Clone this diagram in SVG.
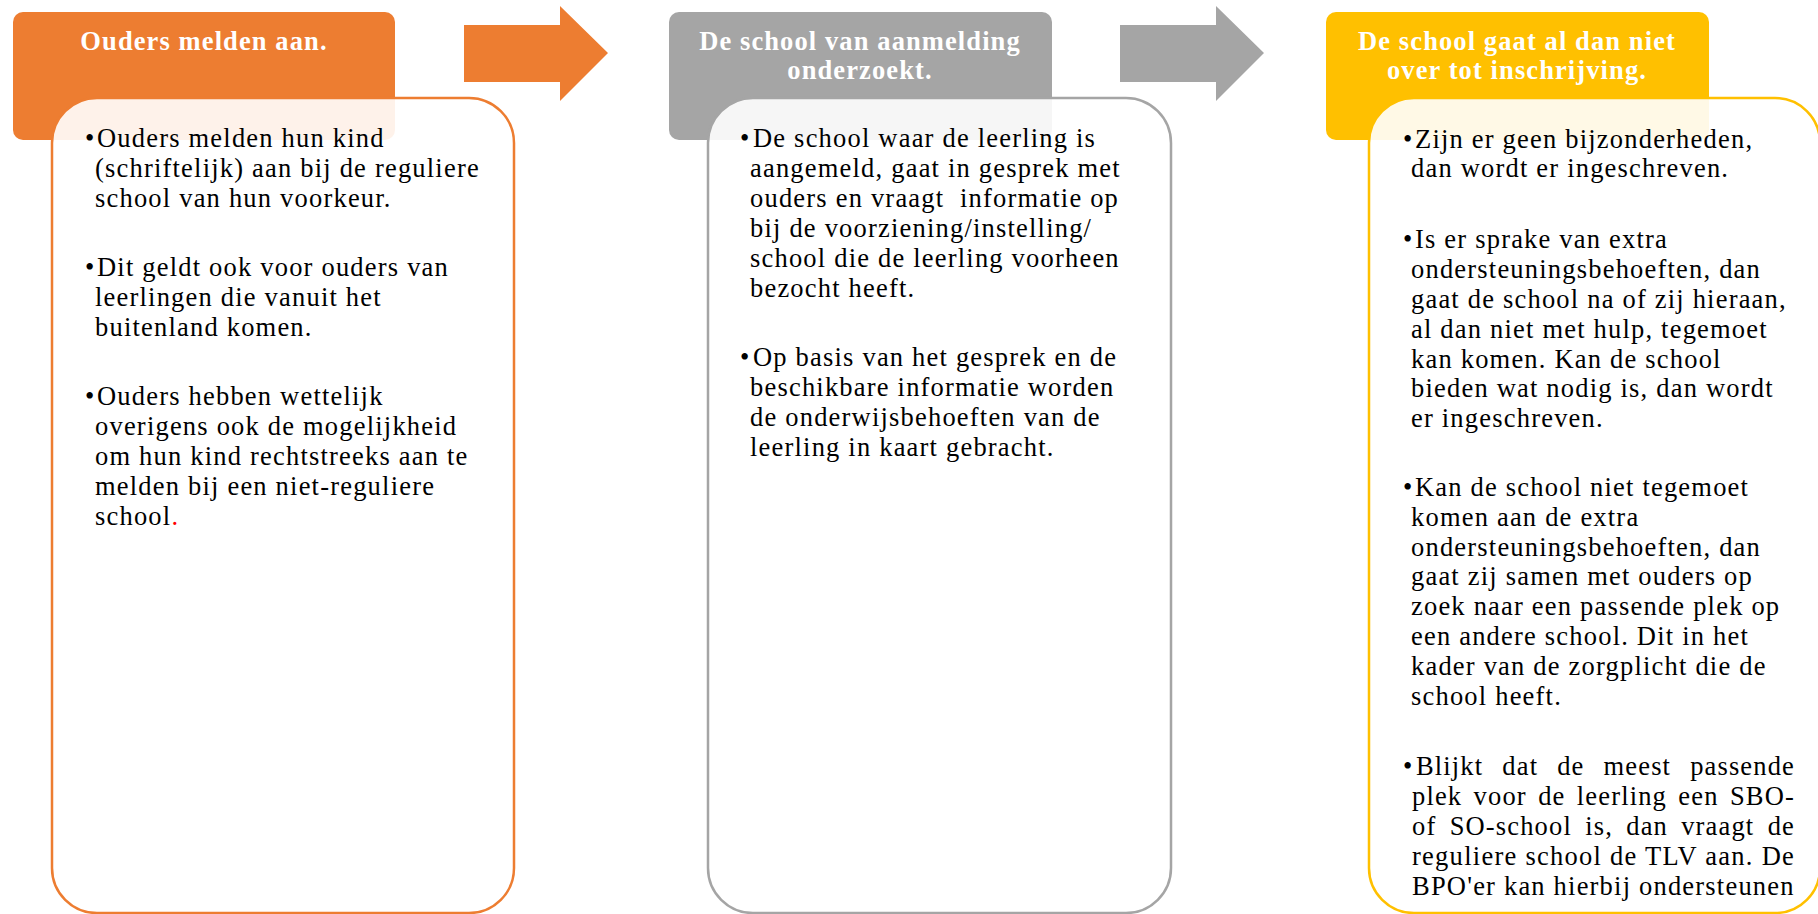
<svg xmlns="http://www.w3.org/2000/svg" width="1818" height="914" viewBox="0 0 1818 914">
<style>
.hdr{font-family:"Liberation Serif",serif;font-weight:bold;font-size:26.5px;fill:#fff;text-anchor:middle;letter-spacing:1.1px}
.txt{font-family:"Liberation Serif",serif;font-size:26.5px;fill:#000;letter-spacing:1.2px}
.body{fill:#fff;fill-opacity:0.9;stroke-width:2.5}
</style>
<rect width="1818" height="914" fill="#fff"/>
<g id="connectors">
<polygon id="arrow1" points="464,25 560,25 560,6 608,53 560,101 560,82 464,82" fill="#ED7D31"/>
<polygon id="arrow2" points="1120,25 1216,25 1216,6 1264,53 1216,101 1216,82 1120,82" fill="#A5A5A5"/>
</g>
<g id="step1">
<rect x="13" y="12" width="382" height="128" rx="10" fill="#ED7D31"/>
<text class="hdr" x="204" y="50">Ouders melden aan.</text>
<rect class="body" x="52" y="98" width="462" height="815" rx="45" stroke="#ED7D31"/>
<text class="txt"><tspan x="85" y="147">•</tspan><tspan x="97" y="147">Ouders melden hun kind</tspan><tspan x="95" y="177">(schriftelijk) aan bij de reguliere</tspan><tspan x="95" y="207">school van hun voorkeur.</tspan></text>
<text class="txt"><tspan x="85" y="276">•</tspan><tspan x="97" y="276">Dit geldt ook voor ouders van</tspan><tspan x="95" y="306">leerlingen die vanuit het</tspan><tspan x="95" y="336">buitenland komen.</tspan></text>
<text class="txt"><tspan x="85" y="405">•</tspan><tspan x="97" y="405">Ouders hebben wettelijk</tspan><tspan x="95" y="435">overigens ook de mogelijkheid</tspan><tspan x="95" y="465">om hun kind rechtstreeks aan te</tspan><tspan x="95" y="495">melden bij een niet-reguliere</tspan><tspan x="95" y="525">school</tspan><tspan fill="#FF0000">.</tspan></text>
</g>
<g id="step2">
<rect x="669" y="12" width="383" height="128" rx="10" fill="#A5A5A5"/>
<text class="hdr"><tspan x="860" y="50">De school van aanmelding</tspan><tspan x="860" y="79">onderzoekt.</tspan></text>
<rect class="body" x="708" y="98" width="463" height="815" rx="45" stroke="#A5A5A5"/>
<text class="txt" style="white-space:pre"><tspan x="740" y="147">•</tspan><tspan x="753" y="147">De school waar de leerling is</tspan><tspan x="750" y="177">aangemeld, gaat in gesprek met</tspan><tspan x="750" y="207">ouders en vraagt  informatie op</tspan><tspan x="750" y="237">bij de voorziening/instelling/</tspan><tspan x="750" y="267">school die de leerling voorheen</tspan><tspan x="750" y="297">bezocht heeft.</tspan></text>
<text class="txt"><tspan x="740" y="366">•</tspan><tspan x="753" y="366">Op basis van het gesprek en de</tspan><tspan x="750" y="396">beschikbare informatie worden</tspan><tspan x="750" y="426">de onderwijsbehoeften van de</tspan><tspan x="750" y="456">leerling in kaart gebracht.</tspan></text>
</g>
<g id="step3">
<rect x="1326" y="12" width="383" height="128" rx="10" fill="#FFC000"/>
<text class="hdr"><tspan x="1517" y="50">De school gaat al dan niet</tspan><tspan x="1517" y="79">over tot inschrijving.</tspan></text>
<rect class="body" x="1369" y="98" width="451" height="815" rx="45" stroke="#FFC000"/>
<text class="txt"><tspan x="1403" y="147.5">•</tspan><tspan x="1415" y="147.5">Zijn er geen bijzonderheden,</tspan><tspan x="1411" y="177.4">dan wordt er ingeschreven.</tspan></text>
<text class="txt"><tspan x="1403" y="248">•</tspan><tspan x="1415" y="248">Is er sprake van extra</tspan><tspan x="1411" y="278">ondersteuningsbehoeften, dan</tspan><tspan x="1411" y="307.7">gaat de school na of zij hieraan,</tspan><tspan x="1411" y="337.6">al dan niet met hulp, tegemoet</tspan><tspan x="1411" y="367.5">kan komen. Kan de school</tspan><tspan x="1411" y="397.4">bieden wat nodig is, dan wordt</tspan><tspan x="1411" y="427.3">er ingeschreven.</tspan></text>
<text class="txt"><tspan x="1403" y="495.7">•</tspan><tspan x="1415" y="495.7">Kan de school niet tegemoet</tspan><tspan x="1411" y="525.6">komen aan de extra</tspan><tspan x="1411" y="555.5">ondersteuningsbehoeften, dan</tspan><tspan x="1411" y="585.4">gaat zij samen met ouders op</tspan><tspan x="1411" y="615.3">zoek naar een passende plek op</tspan><tspan x="1411" y="645.2">een andere school. Dit in het</tspan><tspan x="1411" y="675.1">kader van de zorgplicht die de</tspan><tspan x="1411" y="705">school heeft.</tspan></text>
<text class="txt" x="1403" y="775">•</text>
<text class="txt" x="1416" y="775" style="word-spacing:11.3px" textLength="379" lengthAdjust="spacing">Blijkt dat de meest passende</text>
<text class="txt" x="1412" y="805" style="word-spacing:3.6px" textLength="383" lengthAdjust="spacing">plek voor de leerling een SBO-</text>
<text class="txt" x="1412" y="835" style="word-spacing:5.5px" textLength="383" lengthAdjust="spacing">of SO-school is, dan vraagt de</text>
<text class="txt" x="1412" y="865" textLength="383" lengthAdjust="spacing">reguliere school de TLV aan. De</text>
<text class="txt" x="1412" y="894.5">BPO'er kan hierbij ondersteunen</text>
</g>
</svg>
